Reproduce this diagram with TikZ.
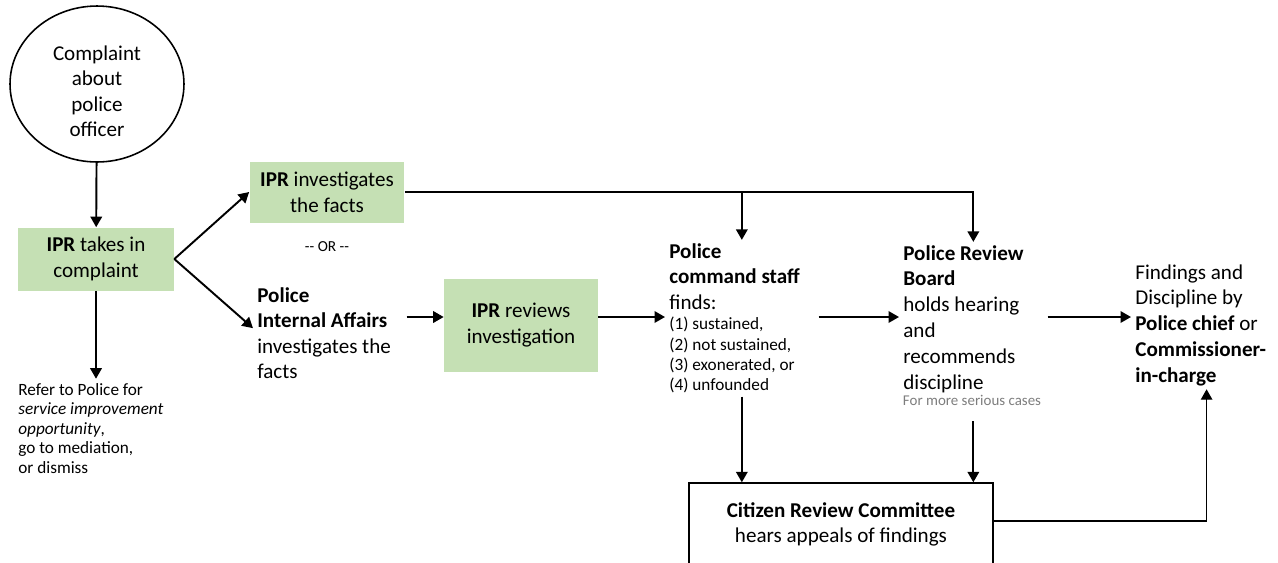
\documentclass[tikz,border=0pt]{standalone}
\usepackage{fontspec}
\setmainfont{Carlito}
\usepackage{xcolor}
\definecolor{ipr_green}{RGB}{197, 224, 180}
\definecolor{note_gray}{RGB}{125, 125, 125}
\usepackage{tikz}
\usetikzlibrary{arrows.meta, positioning, shapes.geometric}

\newcommand{\bodyfont}{\fontsize{12}{14.6}\selectfont}
\newcommand{\smallfont}{\fontsize{9.8}{11.6}\selectfont}

\begin{document}
\begin{tikzpicture}[x=0.02cm, y=-0.02cm, font=\bodyfont,
    greenbox/.style={fill=ipr_green, align=center, inner sep=0pt},
    textnode/.style={align=flush left, text width=#1, inner xsep=0.08cm, inner ysep=0.06cm, anchor=base west},
    textnode/.default=2.9cm,
    arr/.style={-{Triangle[length=0.21cm, width=0.23cm]}, line width=1.1pt},
    thinarr/.style={arr, line width=0.8pt}]
    \useasboundingbox (0,0) rectangle (1278,562);

    \node[ellipse, draw, line width=0.9pt, inner sep=0pt, minimum width=3.48cm, minimum height=3.12cm,
          align=center, text width=2.2cm, text height=0.32cm, text depth=1.28cm]
      (complaint) at (97,84) {Complaint\\about\\police\\officer};
    \node[greenbox, minimum width=3.12cm, minimum height=1.26cm] (intake) at (96,259)
      {\textbf{IPR} takes in\\complaint};
    \node[textnode=3.2cm, font=\fontsize{9.8}{11.1}\selectfont, inner ysep=0.08cm] (refer) at (14,395)
      {Refer to Police for\\\textit{service improvement}\\\textit{opportunity},\\go to mediation,\\or dismiss\par};

    \node[greenbox, minimum width=3.1cm, minimum height=1.22cm] (invest) at (327,192)
      {\textbf{IPR} investigates\\the facts};
    \node[font=\fontsize{8.7}{10}\selectfont] (or) at (327,247) {-{}- OR -{}-};
    \node[textnode] (ia) at (253,302)
      {\textbf{Police}\\\textbf{Internal Affairs}\\investigates the\\facts\par};
    \node[greenbox, minimum width=3.08cm, minimum height=1.86cm] (reviews) at (521,325)
      {\textbf{IPR} reviews\\investigation};

    \node[textnode] (command) at (665,258)
      {\textbf{Police}\\\textbf{command staff}\\finds:\par\smallfont
       (1) sustained,\\(2) not sustained,\\(3) exonerated, or\\(4) unfounded\par};
    \node[textnode=2.8cm, font=\fontsize{12}{14.7}\selectfont] (board) at (899,260)
      {\textbf{Police Review}\\\textbf{Board}\\holds hearing\\and\\recommends\\discipline\par};
    \node[text=note_gray, font=\fontsize{8.5}{10}\selectfont] (serious) at (972,400) {For more serious cases};
    \node[textnode=2.85cm, font=\fontsize{12}{14.7}\selectfont] (findings) at (1131,279)
      {Findings and\\Discipline by\\\textbf{Police chief} or\\\textbf{Commissioner-}\\\textbf{in-charge}\par};

    \node[draw, line width=0.8pt, text width=5.9cm, align=flush center, inner xsep=0.09cm, inner ysep=0.22cm,
          text height=0.46cm, text depth=0.72cm, anchor=base] (crc) at (841,517)
      {\textbf{Citizen Review Committee}\\hears appeals of findings};

    % connectors
    \coordinate (midrow) at (0,317);
    \draw[arr] (complaint) -- (intake);
    \draw[arr] (intake) -- (intake |- refer.north);
    \draw[arr] (intake.east) -- (invest.west);
    \draw[arr] (intake.east) -- ([yshift=0.1cm]ia.west);
    \draw[arr] (ia.east |- midrow) -- (reviews.west |- midrow);
    \draw[arr] (reviews.east |- midrow) -- (command.west |- midrow);
    \draw[arr] (command.east |- midrow) -- (board.west |- midrow);
    \draw[arr] (board.east |- midrow) -- (findings.west |- midrow);
    \draw[arr] (invest.east) -| (board.north);
    \draw[arr] (invest.east -| command.north) -- (command.north);
    \draw[arr] (command) -- (command |- crc.north);
    \draw[arr] ([yshift=-0.2cm]serious.south -| board) -- (board |- crc.north);
    \draw[thinarr] ([yshift=0.05cm]crc.east) -| (findings.south);
\end{tikzpicture}
\end{document}
